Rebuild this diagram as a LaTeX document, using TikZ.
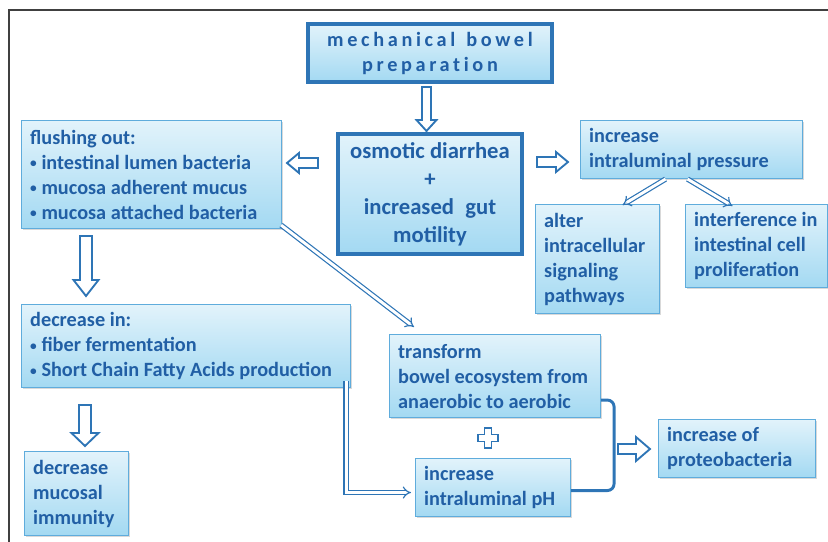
\documentclass[tikz,border=0pt]{standalone}
\usepackage{fontspec}
\setmainfont{Carlito}
\usetikzlibrary{arrows.meta,shadows,calc}
\definecolor{txtblue}{RGB}{33,95,165}
\definecolor{edgeblue}{RGB}{95,172,220}
\definecolor{darkblue}{RGB}{46,117,182}
\definecolor{topfill}{RGB}{226,243,251}
\definecolor{botfill}{RGB}{163,217,242}
\newcommand\bul{\raisebox{0.15ex}{\fontsize{10}{10}\selectfont•}\ }
\tikzset{
 box/.style={draw=edgeblue, line width=0.8pt, top color=topfill, bottom color=botfill,
   anchor=north west, inner xsep=6.5pt, inner ysep=0pt,
   font=\bfseries\fontsize{15.2}{18.75}\selectfont, text=txtblue, align=left,
   execute at begin node={\hyphenpenalty=10000\exhyphenpenalty=10000\spaceskip=0.23em plus 0.05em minus 0.02em},
   drop shadow={opacity=0.3, shadow xshift=1.3pt, shadow yshift=-1.3pt}},
 bigbox/.style={box, draw=darkblue, line width=3pt, align=center},
 sz/.style n args={3}{minimum width=#1pt, minimum height=#2pt, text width=#3pt},
 barrow/.style={draw=darkblue, line width=1.4pt, fill=white, line join=miter},
 dline/.style={draw=darkblue, double=white, line width=0.9pt, double distance=2.2pt, -{Implies}},
 brk/.style={draw=darkblue, line width=2.2pt, rounded corners=5pt},
 framel/.style={draw=black!75, line width=1pt},
}
\newcommand\blockarr[6]{%
 \begin{scope}[shift={#1}, rotate=#2]
 \draw[barrow] (0,-#4) -- ({#3-#6},-#4) -- ({#3-#6},-#5) -- (#3,0) -- ({#3-#6},#5) -- ({#3-#6},#4) -- (0,#4) -- cycle;
 \end{scope}}
\begin{document}
\begin{tikzpicture}[x=0.75pt,y=-0.75pt]
\useasboundingbox (0,0) rectangle (828,542);
% frame
\draw[framel] (828,10) -- (9,10) -- (9,542);
% boxes
\node[bigbox, sz={178.5}{43.5}{170}] (mbp) at (306,22)
  {\addfontfeatures{LetterSpace=18,Ligatures=NoCommon}mechanical\hspace{0.3em} bowel\\preparation};
\node[bigbox, sz={138}{90}{125}, font=\bfseries\fontsize{17}{21}\selectfont] (osm) at (336,132)
  {osmotic diarrhea\\+\\increased\ \ gut\\motility};
\node[box, sz={195}{81}{182}] (flush) at (21,120)
  {flushing out:\\\bul intestinal lumen bacteria\\\bul mucosa adherent mucus\\\bul mucosa attached bacteria};
\node[box, sz={166.5}{43.5}{153.5}] (press) at (580,120)
  {increase\\intraluminal pressure};
\node[box, sz={93}{81.75}{80}] (alter) at (535,204)
  {alter\\intracellular\\signaling\\pathways};
\node[box, sz={106.5}{62.25}{93.5}] (interf) at (685,204)
  {interference in\\intestinal cell\\proliferation};
\node[box, sz={246.75}{62.25}{233.75}] (decin) at (21,304)
  {decrease in:\\\bul fiber fermentation\\\bul Short Chain Fatty Acids production};
\node[box, sz={78}{63}{65}] (decimm) at (24,451)
  {decrease\\mucosal\\immunity};
\node[box, sz={158.25}{62.25}{145.25}] (transf) at (389,334)
  {transform\\bowel ecosystem from\\anaerobic to aerobic};
\node[box, sz={116.25}{43.5}{103.25}] (ph) at (415,458)
  {increase\\intraluminal pH};
\node[box, sz={117.75}{43.5}{104.75}] (proteo) at (658,419)
  {increase of\\proteobacteria};
% hollow block arrows
\blockarr{(426.5,87)}{-90}{44}{4.5}{10}{11}
\blockarr{(318,163)}{180}{31}{5}{10}{12}
\blockarr{(537,162)}{0}{31}{5}{10}{12}
\blockarr{(86,236)}{-90}{60}{6}{12.5}{16}
\blockarr{(85,405)}{-90}{41}{6}{13.5}{13}
\blockarr{(618,449)}{0}{32}{5}{12}{14}
% plus
\draw[barrow] (484.5,428) -- (491.5,428) -- (491.5,434.5) -- (498,434.5) -- (498,441.5) -- (491.5,441.5) -- (491.5,448) -- (484.5,448) -- (484.5,441.5) -- (478,441.5) -- (478,434.5) -- (484.5,434.5) -- cycle;
% double-line connectors
\draw[dline] ($(flush.south east)+(-1,-4)$) -- ($(transf.north west)+(25,-7)$);
\draw[dline] ($(press.south)+(-26,0)$) -- ($(alter.north)+(25,1)$);
\draw[dline] ($(press.south)+(-4,0)$) -- ($(interf.north)+(-24,2)$);
\draw[dline] ($(decin.south east)+(-5,-7)$) |- ($(ph.west)+(-4,5)$);
% bracket
\draw[brk] ($(transf.south east)+(0,-18)$) -- ++(13,0) |- ($(ph.east)+(0,3)$);
\end{tikzpicture}
\end{document}
